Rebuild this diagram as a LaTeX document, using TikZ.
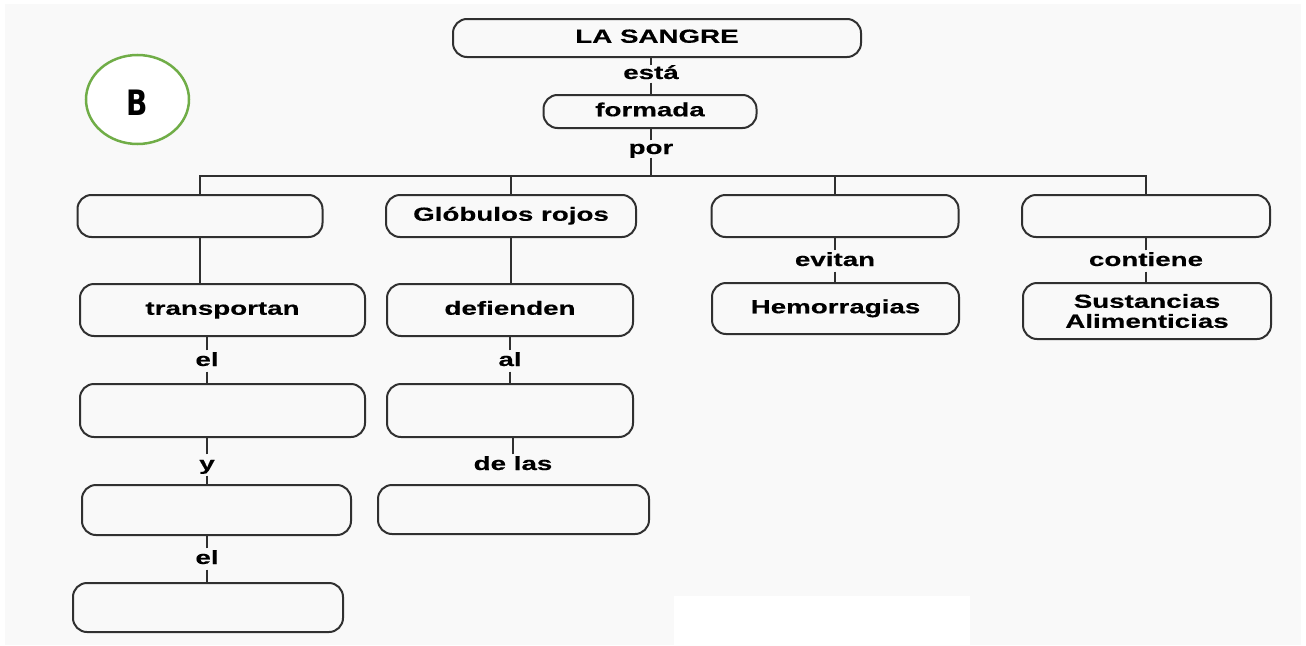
\documentclass[tikz,border=0pt]{standalone}
\usepackage{fontspec}
\setmainfont{Liberation Sans}[FakeStretch=1.46,BoldFeatures={FakeBold=0.4}]
\newfontfamily\letterfont{DejaVu Sans}[FakeStretch=0.8]
\usetikzlibrary{positioning}
\usetikzlibrary{shapes.geometric}
\definecolor{paper}{HTML}{F9F9F9}
\definecolor{ink}{HTML}{303030}
\definecolor{ringgreen}{HTML}{70AD47}

\begin{document}
\begin{tikzpicture}[x=1pt,y=-1pt,
  box/.style={draw=ink,line width=2pt,rounded corners=14pt,inner sep=0pt,align=center,
    text height=13.5pt,text depth=4pt,font=\bfseries\fontsize{19}{20}\selectfont},
  link/.style={inner xsep=3pt,inner ysep=2pt,text height=13.5pt,text depth=3.5pt,
    font=\bfseries\fontsize{19}{20}\selectfont},
  toplink/.style={link,inner ysep=0pt},
  wire/.style={draw=ink,line width=2pt},
  ringnode/.style={ellipse,draw=ringgreen,line width=2.5pt,fill=white,inner sep=0pt,
    minimum width=103,minimum height=89,text height=31pt,
    font=\letterfont\bfseries\fontsize{35}{35}\selectfont}]
\useasboundingbox (0,0) rectangle (1306,645);
\fill[white] (0,0) rectangle (1306,645);
\fill[paper] (5,4) rectangle (1301,645);
\fill[white] (674,596) rectangle (970,645);

\node[ringnode](ring) at (137.5,99.5) {B};

\node[box,minimum width=408,minimum height=38](sangre) at (657,38) {LA SANGRE};
\node[toplink](esta) at (651,74) {está};
\node[box,minimum width=213,minimum height=33](formada) at (650,111.5) {formada};
\node[toplink](por) at (651,149) {por};
\coordinate(bar) at (651,176);

\node[box,minimum width=245,minimum height=42](blank1) at (200,216) {};
\node[box,minimum width=250,minimum height=42](globulos) at (511,216) {Glóbulos rojos};
\node[box,minimum width=247,minimum height=42](blank2) at (835,216) {};
\node[box,minimum width=248,minimum height=42](blank3) at (1146,216) {};

\node[box,minimum width=285,minimum height=52](transp) at (222.5,310) {transportan};
\node[link](el1) at (207,361) {el};
\node[box,minimum width=285,minimum height=53](t1) at (222.5,410.5) {};
\node[link](yconj) at (207,465) {y};
\node[box,minimum width=269,minimum height=50](t2) at (216.5,510) {};
\node[link](el2) at (207,559) {el};
\node[box,minimum width=270,minimum height=49](t3) at (208,607.5) {};

\node[box,minimum width=246,minimum height=52](defien) at (510,310) {defienden};
\node[link](al) at (510,361) {al};
\node[box,minimum width=246,minimum height=53](d1) at (510,410.5) {};
\node[link](delas) at (513,465) {de las};
\node[box,minimum width=271,minimum height=49](d2) at (513.5,509.5) {};

\node[link](evitan) at (835,261) {evitan};
\node[box,minimum width=247,minimum height=51](hemo) at (835.5,308.5) {Hemorragias};
\node[link](contiene) at (1146,261) {contiene};
\node[box,minimum width=248,minimum height=56,text height=,text depth=](sust) at (1147,311) {Sustancias\\Alimenticias};

\draw[wire] (esta) -- (esta |- sangre.south); \draw[wire] (esta) -- (esta |- formada.north);
\draw[wire] (por) -- (por |- formada.south); \draw[wire] (por) -- (bar);
\draw[wire] (blank1) |- (bar) -| (blank3); \draw[wire] (globulos) |- (bar); \draw[wire] (blank2) |- (bar);

\draw[wire] (blank1) -- (blank1 |- transp.north);
\draw[wire] (el1) -- (el1 |- transp.south); \draw[wire] (el1) -- (el1 |- t1.north);
\draw[wire] (yconj) -- (yconj |- t1.south); \draw[wire] (yconj) -- (yconj |- t2.north);
\draw[wire] (el2) -- (el2 |- t2.south); \draw[wire] (el2) -- (el2 |- t3.north);

\draw[wire] (globulos) -- (globulos |- defien.north);
\draw[wire] (al) -- (al |- defien.south); \draw[wire] (al) -- (al |- d1.north);
\draw[wire] (delas) -- (delas |- d1.south);

\draw[wire] (evitan) -- (evitan |- blank2.south); \draw[wire] (evitan) -- (evitan |- hemo.north);
\draw[wire] (contiene) -- (contiene |- blank3.south); \draw[wire] (contiene) -- (contiene |- sust.north);
\end{tikzpicture}
\end{document}
